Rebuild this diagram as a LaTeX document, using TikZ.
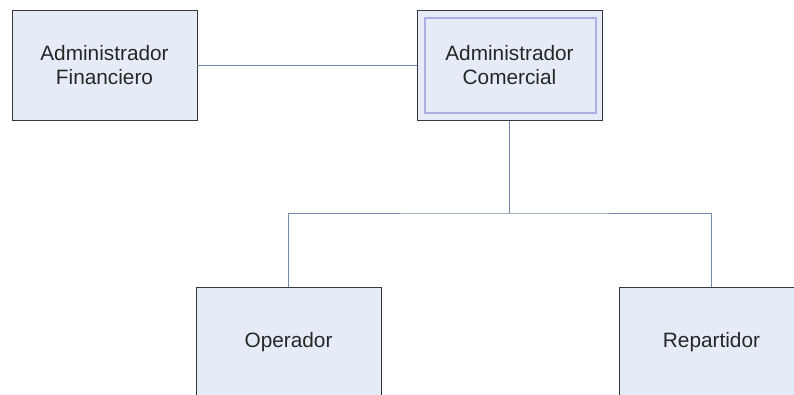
\documentclass[tikz,border=0pt]{standalone}
\usepackage{fontspec}
\setmainfont{Liberation Sans}
\usepackage{tikz}
\usetikzlibrary{positioning,calc}
\usepackage{xcolor}
\definecolor{boxfill}{RGB}{230,236,247}
\definecolor{boxline}{RGB}{55,55,60}
\definecolor{linkblue}{RGB}{115,135,175}
\definecolor{innerlav}{RGB}{172,176,228}

\tikzset{
    rolebox/.style={draw=boxline, line width=0.9pt, fill=boxfill, minimum width=185pt, minimum height=110pt,
        align=center, font=\fontsize{20.8}{24}\selectfont, text=black!85, inner sep=0pt},
    link/.style={draw=linkblue, line width=1pt},
    innerframe/.style={draw=innerlav, line width=2pt}
}

\begin{document}
\begin{tikzpicture}[x=1pt, y=-1pt]
    \useasboundingbox (0,0) rectangle (794,394);
    \clip (0,0) rectangle (794,394);
    \fill[white] (0,0) rectangle (794,394);

    % upper level
    \node[rolebox] (financiero) at (104.5,65.5) {Administrador\\Financiero};
    \node[rolebox] (comercial) at (509.5,65.5) {Administrador\\Comercial};
    \draw[innerframe] ([shift={(8pt,-8pt)}]comercial.north west) rectangle ([shift={(-6pt,8pt)}]comercial.south east);

    % lower level
    \node[rolebox] (operador) at (288.5,342) {Operador};
    \node[rolebox] (repartidor) at (711.5,342) {Repartidor};

    % connections
    \coordinate (bus) at (509.5,213);
    \draw[link] (financiero.east) -- (comercial.west);
    \draw[link] (comercial.south) -- (bus);
    \draw[link] (operador.north) |- (bus) -| (repartidor.north);
\end{tikzpicture}
\end{document}
